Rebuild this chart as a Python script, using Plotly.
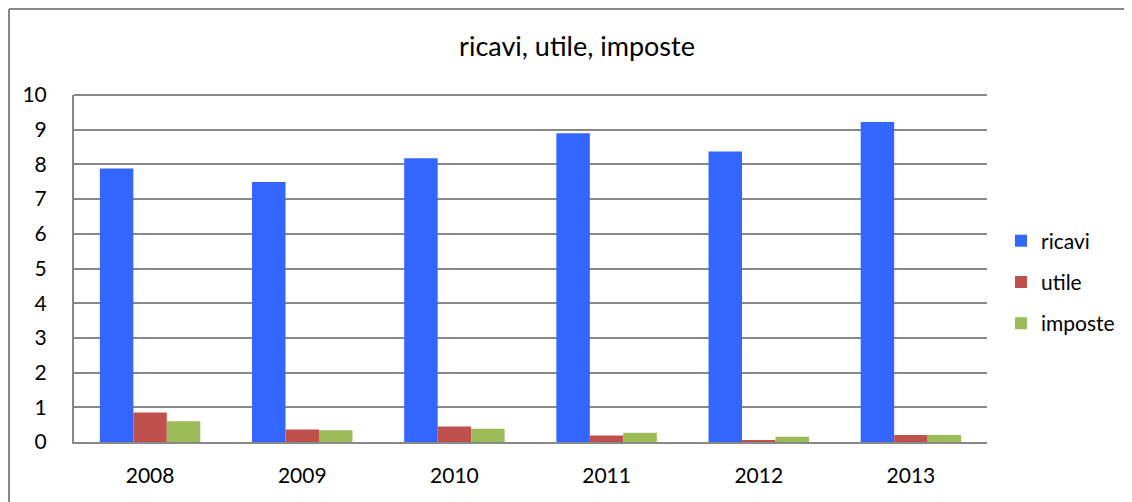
import plotly.graph_objects as go

years = ["2008", "2009", "2010", "2011", "2012", "2013"]
ricavi = [7.88, 7.49, 8.18, 8.90, 8.37, 9.22]
utile = [0.85, 0.36, 0.45, 0.19, 0.04, 0.20]
imposte = [0.60, 0.34, 0.38, 0.27, 0.15, 0.20]

series = [("ricavi", ricavi, "#3366FF"), ("utile", utile, "#C0504D"), ("imposte", imposte, "#9BBB59")]

FONT = "Lato"
OFF = 8  # page body margin offset
W, H = 1132, 502
# target plot area in page pixels
L, R, T, B = 74 - OFF, 987 - OFF, 95 - OFF, 442 - OFF

fig = go.Figure()
for name, vals, col in series:
    fig.add_trace(go.Bar(x=years, y=vals, name=name, marker_color=col,
                         marker_line_width=0, legendgroup=name))

pw = R - L
ph = B - T
def px2x(p):
    return (p - L) / pw
def px2y(p):
    return (B - p) / ph

fig.update_layout(
    width=W, height=H,
    margin=dict(l=L, r=W - R, t=T, b=H - B, autoexpand=False),
    paper_bgcolor="white", plot_bgcolor="white",
    barmode="group", bargap=0.34, bargroupgap=0,
    font=dict(family=FONT, color="black", size=21),
    title=dict(text="ricavi, utile, imposte", x=(577 - OFF) / W, xanchor="center",
               y=1 - (47 - OFF) / H, yanchor="middle", font=dict(size=27, family=FONT)),
    showlegend=True,
    legend=dict(x=px2x(1001 - OFF), xanchor="left", y=px2y(282 - OFF), yanchor="middle",
                font=dict(size=21, family=FONT), tracegroupgap=11,
                itemwidth=30, traceorder="grouped", bgcolor="rgba(0,0,0,0)"),
    xaxis=dict(showgrid=False, showline=True, linecolor="#888888", linewidth=2,
               ticks="", tickfont=dict(size=21), ticklabelstandoff=14),
    yaxis=dict(range=[0, 10], dtick=1, showgrid=True, gridcolor="#888888",
               gridwidth=2, showline=True, linecolor="#888888", linewidth=2,
               zeroline=False, ticks="", ticklabelstandoff=21, tickfont=dict(size=21)),
)

# outer chart frame (top and left edges visible)
fig.add_shape(type="line", xref="paper", yref="paper", x0=px2x(1), x1=px2x(W + 20),
              y0=px2y(1), y1=px2y(1), line=dict(color="#888888", width=2))
fig.add_shape(type="line", xref="paper", yref="paper", x0=px2x(1), x1=px2x(1),
              y0=px2y(1), y1=px2y(H + 20), line=dict(color="#888888", width=2))
# top border of plot area at 10
fig.add_shape(type="line", xref="paper", yref="paper", x0=0, x1=1, y0=1, y1=1,
              line=dict(color="#888888", width=2))

fig.write_html("out.html")
